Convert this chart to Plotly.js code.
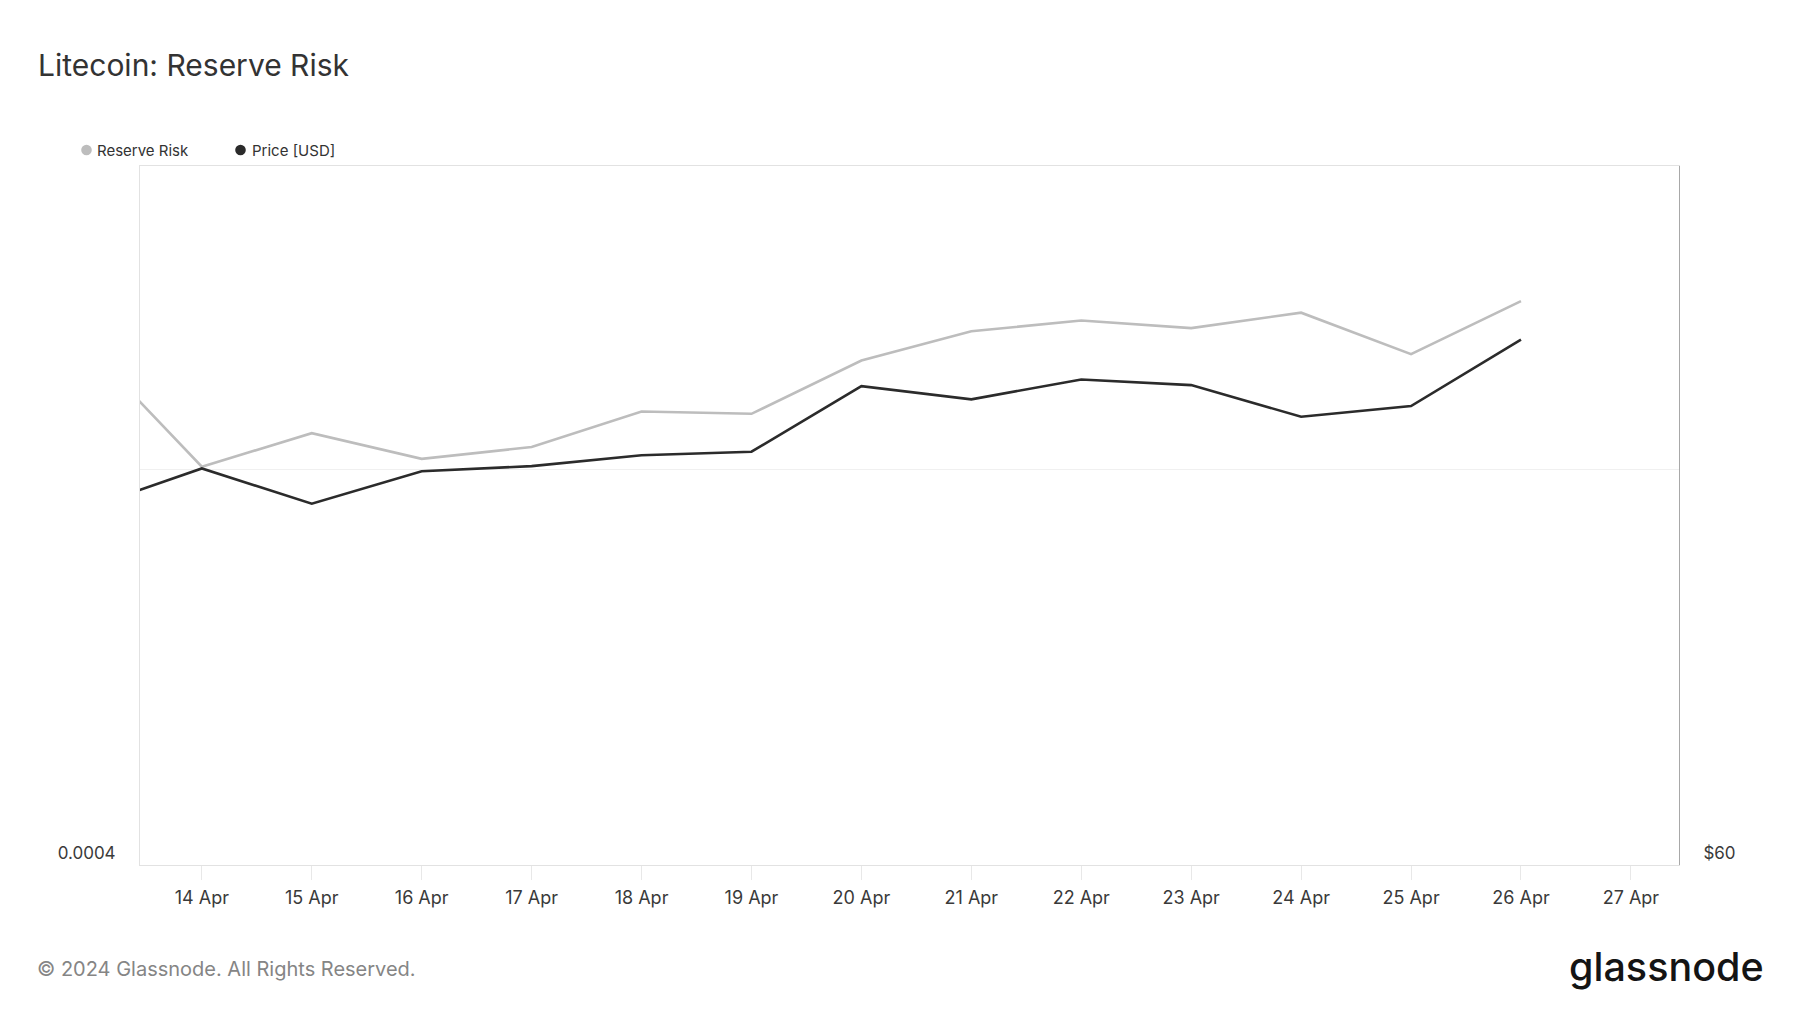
<!DOCTYPE html>
<html>
<head>
<meta charset="utf-8">
<script src="https://cdn.plot.ly/plotly-3.0.1.min.js"></script>
<style>
  html, body { margin: 0; padding: 0; background: #ffffff; }
  #chart { width: 1800px; height: 1013px; }
</style>
</head>
<body>
<div id="chart"></div>
<script>
// ---- Data ----
const titleText = "Litecoin: Reserve Risk";
const seriesNames = ["Reserve Risk", "Price [USD]"];
const dates = ["2024-04-13", "2024-04-14", "2024-04-15", "2024-04-16", "2024-04-17", "2024-04-18", "2024-04-19",
               "2024-04-20", "2024-04-21", "2024-04-22", "2024-04-23", "2024-04-24", "2024-04-25", "2024-04-26"];
const reserveRisk = [0.0005300, 0.0005008, 0.0005093, 0.0005028, 0.0005058, 0.0005148, 0.0005142,
                     0.0005277, 0.0005351, 0.0005378, 0.0005359, 0.0005398, 0.0005293, 0.0005427];
const price = [78.15, 80.07, 78.29, 79.93, 80.19, 80.74, 80.92, 84.24, 83.57, 84.57, 84.29, 82.69, 83.23, 86.59];
const xTickVals = ["2024-04-14", "2024-04-15", "2024-04-16", "2024-04-17", "2024-04-18", "2024-04-19", "2024-04-20",
                   "2024-04-21", "2024-04-22", "2024-04-23", "2024-04-24", "2024-04-25", "2024-04-26", "2024-04-27"];
const xTickText = ["14 Apr", "15 Apr", "16 Apr", "17 Apr", "18 Apr", "19 Apr", "20 Apr",
                   "21 Apr", "22 Apr", "23 Apr", "24 Apr", "25 Apr", "26 Apr", "27 Apr"];
const xRange = ["2024-04-13 10:30", "2024-04-27 10:30"];
const leftTickVals = [0.0004, 0.0005];
const leftTickText = ["0.0004", ""];
const leftRange = [0.0004, 0.00057692];
const rightTickVals = [60];
const rightTickText = ["$60"];
const rightRange = [60, 95.38];
const copyrightText = "© 2024 Glassnode. All Rights Reserved.";
const logoText = "glassnode";

// ---- Styling ----
const colors = ["#bdbdbd", "#2b2b2b"];
const W = 1800, H = 1013;
const M = { l: 140, r: 121, t: 166, b: 148 };
const PW = W - M.l - M.r, PH = H - M.t - M.b;
const px = x => (x - M.l) / PW;
const py = y => (H - M.b - y) / PH;
const FONT = "Inter, 'Noto Sans', sans-serif";

const traces = [
  { x: dates, y: reserveRisk, name: seriesNames[0], type: "scatter", mode: "lines",
    line: { color: colors[0], width: 2.6 }, yaxis: "y", showlegend: false, hoverinfo: "skip" },
  { x: dates, y: price, name: seriesNames[1], type: "scatter", mode: "lines",
    line: { color: colors[1], width: 2.6 }, yaxis: "y2", showlegend: false, hoverinfo: "skip" }
];

// legend (dots + labels) built from series names
const legendDotX = [86.5, 240.5];
const legendTextX = [95, 250];
const legendY = 150;
const shapes = [];
const annotations = [];
seriesNames.forEach((n, i) => {
  shapes.push({ type: "circle", xref: "paper", yref: "paper", xsizemode: "pixel", ysizemode: "pixel",
    xanchor: px(legendDotX[i]), yanchor: py(legendY), x0: -5.3, x1: 5.3, y0: -5.3, y1: 5.3,
    fillcolor: colors[i], line: { width: 0 } });
  annotations.push({ xref: "paper", yref: "paper", x: px(legendTextX[i]), y: py(legendY),
    xanchor: "left", yanchor: "middle", text: n, showarrow: false,
    font: { family: FONT, size: 15, color: "#333333" } });
});
annotations.push({ xref: "paper", yref: "paper", x: px(35), y: py(969), xanchor: "left", yanchor: "middle",
  text: copyrightText, showarrow: false, font: { family: FONT, size: 20, color: "#858585" } });
annotations.push({ xref: "paper", yref: "paper", x: px(1766), y: py(966.5), xanchor: "right", yanchor: "middle",
  text: logoText, showarrow: false, font: { family: FONT, size: 39.5, color: "#141414", weight: 500 } });

const layout = {
  width: W, height: H,
  margin: M,
  paper_bgcolor: "#ffffff", plot_bgcolor: "#ffffff",
  showlegend: false,
  title: { text: titleText, xref: "container", yref: "container", x: 38 / W, y: 1 - 65 / H,
           xanchor: "left", yanchor: "middle", font: { family: FONT, size: 30, color: "#333333" } },
  xaxis: {
    type: "date", range: xRange, tickvals: xTickVals, ticktext: xTickText,
    showgrid: false, zeroline: false,
    showline: true, linecolor: "#e2e2e2", linewidth: 1, mirror: true,
    ticks: "outside", ticklen: 14, tickcolor: "#e8e8e8", tickwidth: 1,
    ticklabelstandoff: 2,
    tickfont: { family: FONT, size: 18, color: "#3a3a3a" }
  },
  yaxis: {
    range: leftRange, tickvals: leftTickVals, ticktext: leftTickText,
    showgrid: true, gridcolor: "#f0f0f0", gridwidth: 1, zeroline: false,
    showline: true, linecolor: "#e2e2e2", linewidth: 1,
    ticks: "", ticklabelposition: "outside top", ticklabelstandoff: 20,
    tickfont: { family: FONT, size: 17, color: "#3a3a3a" }
  },
  yaxis2: {
    overlaying: "y", side: "right",
    range: rightRange, tickvals: rightTickVals, ticktext: rightTickText,
    showgrid: false, zeroline: false,
    showline: true, linecolor: "#a8a8a8", linewidth: 1,
    ticks: "", ticklabelposition: "outside top", ticklabelstandoff: 20,
    tickfont: { family: FONT, size: 17, color: "#3a3a3a" }
  },
  shapes: shapes,
  annotations: annotations
};

Plotly.newPlot("chart", traces, layout, { displayModeBar: false, staticPlot: true });
</script>
</body>
</html>
